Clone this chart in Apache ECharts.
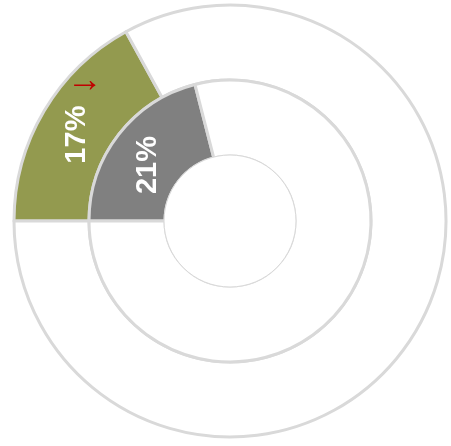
<!DOCTYPE html>
<html>
<head>
<meta charset="utf-8">
<style>
  html, body { margin: 0; padding: 0; background: #ffffff; }
  #chart { width: 451px; height: 446px; }
</style>
<script src="https://cdn.jsdelivr.net/npm/echarts@6/dist/echarts.min.js"></script>
</head>
<body>
<div id="chart"></div>
<script>
// Two concentric rings, each showing one share against the remainder
const ringNames   = ['Outer', 'Inner'];
const shareValues = [17, 21];          // highlighted share, percent
const restValues  = [83, 79];          // remainder, percent
const shareColors = ['#939a4f', '#808080'];
const shareLabels = ['17%', '21%'];

const CENTER = [230, 221];
const RADII = [[141, 216], [65, 141]];
// small nudges for the rotated labels: spacer line height and right padding
const LABEL_SPACER = [7, 4];
const LABEL_PAD = [[0, 12, 0, 0], [0, 18, 0, 0]];
const BORDER = '#d9d9d9';
const LABEL_FONT = "'Liberation Sans', Arial, sans-serif";

const chart = echarts.init(document.getElementById('chart'), null, { renderer: 'canvas' });

const series = ringNames.map((name, i) => ({
  name: name,
  type: 'pie',
  center: CENTER,
  radius: RADII[i],
  startAngle: 180,
  clockwise: true,
  silent: true,
  animation: false,
  avoidLabelOverlap: false,
  labelLine: { show: false },
  itemStyle: { borderColor: BORDER, borderWidth: 3 },
  data: [
    {
      value: shareValues[i],
      name: shareLabels[i],
      itemStyle: { color: shareColors[i] },
      label: {
        show: true,
        position: 'inside',
        formatter: '{s| }\n{t|' + shareLabels[i] + '}',
        rotate: 90,
        padding: LABEL_PAD[i],
        rich: {
          s: { fontSize: 1, lineHeight: LABEL_SPACER[i] },
          t: {
            color: '#ffffff',
            fontFamily: LABEL_FONT,
            fontWeight: 'bold',
            fontSize: 29,
            lineHeight: 29
          }
        }
      }
    },
    {
      value: restValues[i],
      name: name + ' rest',
      itemStyle: { color: '#ffffff' },
      label: { show: false }
    }
  ]
}));

chart.setOption({
  backgroundColor: '#ffffff',
  series: series,
  graphic: [
    {
      // center hole with a thin outline
      type: 'circle',
      z: 100,
      silent: true,
      shape: { cx: CENTER[0], cy: CENTER[1], r: 66 },
      style: { fill: '#ffffff', stroke: BORDER, lineWidth: 1 }
    },
    {
      type: 'text',
      z: 100,
      silent: true,
      x: 85,
      y: 81,
      style: {
        text: '\u2192',
        fill: '#c00000',
        fontSize: 36,
        fontFamily: LABEL_FONT,
        align: 'center',
        verticalAlign: 'middle'
      }
    }
  ]
});
</script>
</body>
</html>
